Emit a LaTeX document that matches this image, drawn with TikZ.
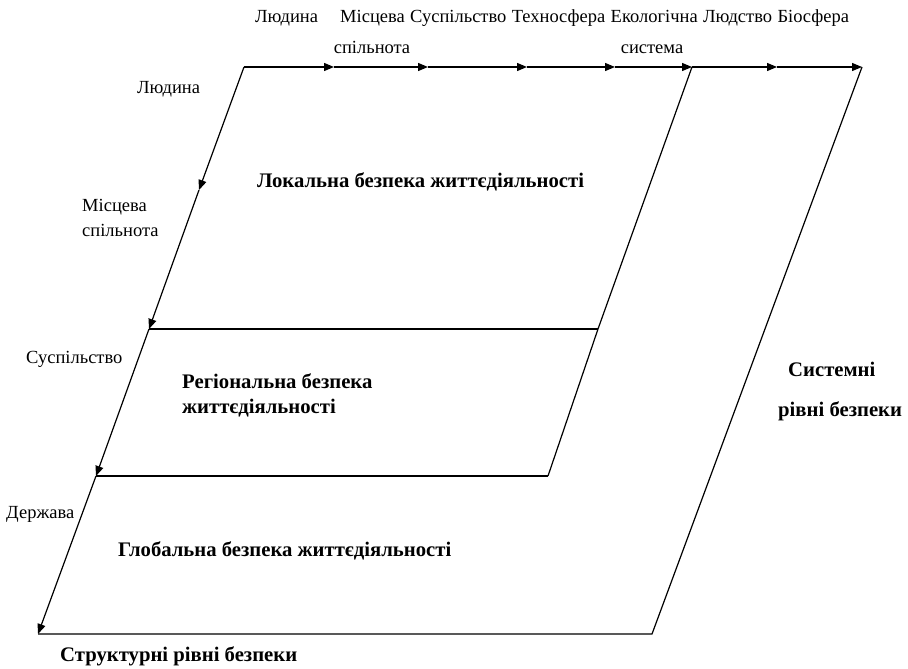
\documentclass[tikz,border=0pt]{standalone}
\usepackage{fontspec}
\setmainfont{Liberation Serif}
\usetikzlibrary{arrows.meta}
\tikzset{
  ln/.style={line width=1.2pt, black},
  arr/.style={ln, -{Triangle[length=10pt,width=8pt]}},
  lbl/.style={font=\fontsize{18.5}{25}\selectfont, inner sep=0pt},
  ttl/.style={font=\fontsize{20.7}{24}\selectfont\bfseries, inner sep=0pt},
}
\begin{document}
\begin{tikzpicture}[x=1pt,y=-1pt]
\useasboundingbox (0,0) rectangle (908,669);
% corners
\coordinate (TL) at (244,67);
\coordinate (TR) at (862,67);
\coordinate (IT) at (692,67);
\coordinate (ML) at (149,329);
\coordinate (MR) at (598,329);
\coordinate (LL) at (96,476);
\coordinate (LR) at (548,476);
\coordinate (BL) at (38,634);
\coordinate (BR) at (652,634);
\coordinate (LA) at (199,190);
% top arrow points
\coordinate (T1) at (334,67);
\coordinate (T2) at (428,67);
\coordinate (T3) at (527,67);
\coordinate (T4) at (615,67);
\coordinate (T6) at (777,67);
% top line with arrows
\draw[arr] (TL) -- (T1);
\draw[arr] (T1) -- (T2);
\draw[arr] (T2) -- (T3);
\draw[arr] (T3) -- (T4);
\draw[arr] (T4) -- (IT);
\draw[arr] (IT) -- (T6);
\draw[arr] (T6) -- (TR);
% left line with arrows
\draw[arr] (TL) -- (LA);
\draw[arr] (LA) -- (ML);
\draw[arr] (ML) -- (LL);
\draw[arr] (LL) -- (BL);
% other lines
\draw[ln] (BL) -- (BR) -- (TR);
\draw[ln] (IT) -- (MR) -- (LR);
\draw[ln] (ML) -- (MR);
\draw[ln] (LL) -- (LR);
% top labels
\node[lbl, anchor=base west] (t1) at (255,23) {Людина};
\node[lbl, anchor=base west] (t2) at (340,23) {Місцева};
\node[lbl, anchor=base west] (t3) at ([xshift=5pt]t2.base east) {Суспільство};
\node[lbl, anchor=base west] (t4) at ([xshift=5pt]t3.base east) {Техносфера};
\node[lbl, anchor=base west] (t5) at ([xshift=5pt]t4.base east) {Екологічна};
\node[lbl, anchor=base west] (t6) at ([xshift=5pt]t5.base east) {Людство};
\node[lbl, anchor=base west] (t7) at ([xshift=5pt]t6.base east) {Біосфера};
\node[lbl, anchor=base] (t2b) at (372,54) {спільнота};
\node[lbl, anchor=base] (t5b) at (652,54) {система};
% left labels
\node[lbl, anchor=base west] (l1) at (137,93) {Людина};
\node[lbl, anchor=base west, align=left] (l2) at (82,236) {Місцева\\спільнота};
\node[lbl, anchor=base west] (l3) at (26,363) {Суспільство};
\node[lbl, anchor=base west] (l4) at (6,518) {Держава};
% titles
\node[ttl, anchor=base west] (loc) at (257,187) {Локальна безпека життєдіяльності};
\node[ttl, anchor=base west] (reg1) at (182,388) {Регіональна безпека};
\node[ttl, anchor=base west] (reg2) at (182,413) {життєдіяльності};
\node[ttl, anchor=base west] (glob) at (118,556) {Глобальна безпека життєдіяльності};
\node[ttl, anchor=base west] (sys1) at (788,376) {Системні};
\node[ttl, anchor=base west] (sys2) at (778,416) {рівні безпеки};
\node[ttl, anchor=base west] (str) at (60,661) {Структурні рівні безпеки};
\end{tikzpicture}
\end{document}
